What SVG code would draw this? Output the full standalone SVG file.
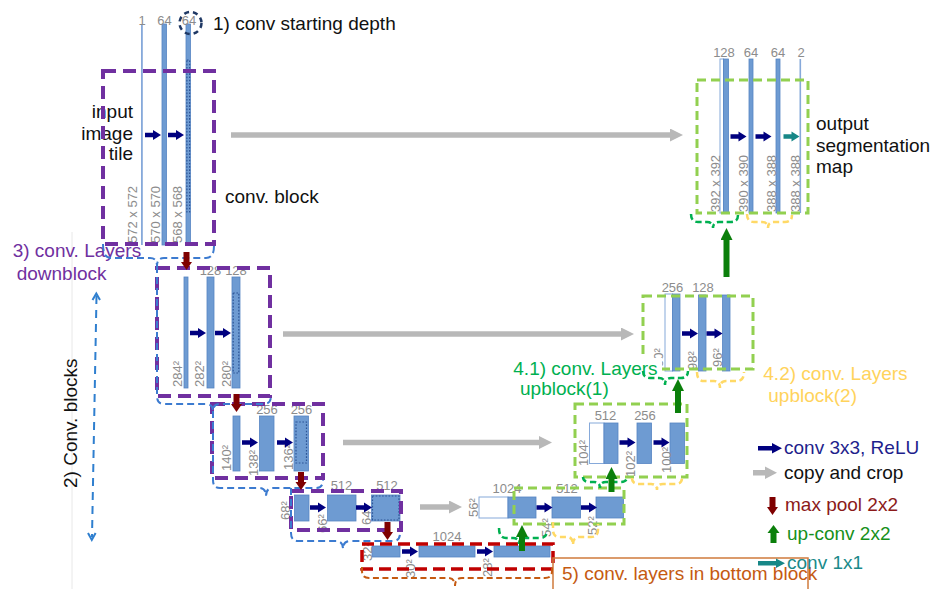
<svg xmlns="http://www.w3.org/2000/svg" width="934" height="589" viewBox="0 0 934 589">
<defs>
<style>
.bar{fill:#6E9BD2;stroke:#5584C2;stroke-width:0.8}
.thin{fill:#86A9DA;stroke:none}
.wbar{fill:#fff;stroke:#86A9DA;stroke-width:1}
.dots{fill:none;stroke:#2D5596;stroke-width:1.2;stroke-dasharray:1.6 1.6}
.num{font-family:"Liberation Sans",Arial,sans-serif;font-size:13px;fill:#8C8C8C}
.c{text-anchor:middle}
.lbl{font-family:"Liberation Sans",Arial,sans-serif;font-size:19px;fill:#111}
.pbox{fill:none;stroke:#7030A0;stroke-width:4;stroke-dasharray:13 7}
.gbox{fill:none;stroke:#92D050;stroke-width:3;stroke-dasharray:9 5}
.rbox{fill:none;stroke:#C00000;stroke-width:3.5;stroke-dasharray:12 6}
.bbr{fill:none;stroke:#3C7BD0;stroke-width:2;stroke-dasharray:7 4}
.gbr{fill:none;stroke:#00B050;stroke-width:2.5;stroke-dasharray:6 3.5}
.ybr{fill:none;stroke:#FFD966;stroke-width:2.5;stroke-dasharray:6 3.5}
.obr{fill:none;stroke:#C55A11;stroke-width:2;stroke-dasharray:6 3.5}
.copy{stroke:#B8B8B8;stroke-width:5.5;marker-end:url(#mGray)}
.up{stroke:#0B7F0B;stroke-width:6;marker-end:url(#mGreen)}
</style>
<marker id="mGray" markerUnits="userSpaceOnUse" viewBox="0 0 13 13" markerWidth="13" markerHeight="13" refX="0" refY="6.5" orient="auto"><path d="M0,0 L13,6.5 L0,13 Z" fill="#B8B8B8"/></marker>
<marker id="mGreen" markerUnits="userSpaceOnUse" viewBox="0 0 12 12" markerWidth="12" markerHeight="12" refX="0" refY="6" orient="auto"><path d="M0,0 L12,6 L0,12 Z" fill="#0B7F0B"/></marker>
<path id="aNavy" d="M0,-2.3 H8 V-5 L16,0 L8,5 V2.3 H0 Z" fill="#00007F"/>
<path id="aTeal" d="M0,-2.3 H8 V-5 L16,0 L8,5 V2.3 H0 Z" fill="#178787"/>
<path id="aRed" d="M-3,0 H3 V10 H5.5 L0,18 L-5.5,10 H-3 Z" fill="#7F0000"/>
</defs>
<rect width="934" height="589" fill="#fff"/>
<line x1="72" y1="232" x2="72" y2="589" stroke="#E8E8E8" stroke-width="1"/>

<!-- Level 1 down -->
<g id="down1">
<text class="lbl" text-anchor="end" x="133" y="118">input</text>
<text class="lbl" text-anchor="end" x="133" y="139.5">image</text>
<text class="lbl" text-anchor="end" x="133" y="160">tile</text>
<rect class="thin" x="141" y="24" width="1.8" height="221"/>
<rect class="bar" x="162" y="24" width="4.5" height="221"/>
<rect class="bar" x="186" y="24" width="4.5" height="221"/>
<rect class="dots" x="186.9" y="60" width="2.7" height="152"/>
<text class="num c" x="142" y="25">1</text>
<text class="num c" x="164.5" y="25">64</text>
<text class="num c" x="189" y="25">64</text>
<circle cx="190.5" cy="23" r="11" fill="none" stroke="#1F3864" stroke-width="2.5" stroke-dasharray="5 4"/>
<text class="num" transform="translate(137,243) rotate(-90)">572 x 572</text>
<text class="num" transform="translate(160,243) rotate(-90)">570 x 570</text>
<text class="num" transform="translate(181.5,243) rotate(-90)">568 x 568</text>
<rect class="pbox" x="103" y="71" width="111" height="173"/>
</g>

<!-- Level 2 down -->
<g id="down2">
<rect class="bar" x="184" y="277" width="4" height="111"/>
<rect class="bar" x="207" y="277" width="7" height="111"/>
<rect class="bar" x="232" y="277" width="8" height="111"/>
<rect class="dots" x="233.2" y="293" width="5.6" height="80"/>
<text class="num c" x="210.5" y="275">128</text>
<text class="num c" x="236" y="275">128</text>
<text class="num" transform="translate(181.5,387) rotate(-90)">284²</text>
<text class="num" transform="translate(204,387) rotate(-90)">282²</text>
<text class="num" transform="translate(231,387) rotate(-90)">280²</text>
<rect class="pbox" x="157" y="268" width="113" height="128"/>
</g>

<!-- Level 3 down -->
<g id="down3">
<rect class="bar" x="233" y="416" width="7" height="55"/>
<rect class="bar" x="259.5" y="416" width="14.5" height="55"/>
<rect class="bar" x="294" y="416" width="14.5" height="55"/>
<rect class="dots" x="296" y="422" width="10.5" height="41"/>
<text class="num c" x="267" y="414">256</text>
<text class="num c" x="301.5" y="414">256</text>
<text class="num" transform="translate(231,471) rotate(-90)">140²</text>
<text class="num" transform="translate(258,476) rotate(-90)">138²</text>
<text class="num" transform="translate(292.5,470) rotate(-90)">136²</text>
<rect class="pbox" x="212" y="404" width="111" height="74"/>
</g>

<!-- Level 4 down -->
<g id="down4">
<rect class="bar" x="294.5" y="495" width="14.5" height="26"/>
<rect class="bar" x="327.5" y="495" width="28.5" height="26"/>
<rect class="bar" x="371.5" y="495" width="28.5" height="26"/>
<rect class="dots" x="372.5" y="496" width="26.5" height="24"/>
<text class="num c" x="341.5" y="490">512</text>
<text class="num c" x="387" y="490">512</text>
<text class="num" transform="translate(290,520) rotate(-90)">68²</text>
<text class="num" transform="translate(327,533) rotate(-90)">66²</text>
<text class="num" transform="translate(371,525) rotate(-90)">64²</text>
<rect class="pbox" x="291" y="491" width="110" height="39"/>
</g>

<!-- Bottom -->
<g id="bottom">
<rect class="bar" x="372" y="546" width="28" height="11"/>
<rect class="bar" x="419" y="546" width="56" height="11"/>
<rect class="bar" x="494" y="546" width="56" height="11"/>
<text class="num c" x="447" y="540.5">1024</text>
<text class="num" transform="translate(372,561) rotate(-90)">32²</text>
<text class="num" transform="translate(415,578) rotate(-90)">30²</text>
<text class="num" transform="translate(492,577) rotate(-90)">28²</text>
<rect class="rbox" x="362" y="544" width="191" height="25"/>
</g>

<!-- Up level 4 -->
<g id="up4">
<rect class="wbar" x="479" y="497" width="29" height="21"/>
<rect class="bar" x="508" y="497" width="28" height="21"/>
<rect class="bar" x="552" y="497" width="28.5" height="21"/>
<rect class="bar" x="596" y="497" width="27.5" height="21"/>
<text class="num c" x="507" y="493">1024</text>
<text class="num c" x="567" y="493">512</text>
<text class="num" transform="translate(478,517) rotate(-90)">56²</text>
<text class="num" transform="translate(551,537) rotate(-90)">54²</text>
<text class="num" transform="translate(597,535) rotate(-90)">52²</text>
<rect class="gbox" x="514" y="488" width="110" height="36"/>
</g>

<!-- Up level 3 -->
<g id="up3">
<rect class="wbar" x="589.5" y="423" width="14.5" height="40.5"/>
<rect class="bar" x="604" y="423" width="14" height="40.5"/>
<rect class="bar" x="637" y="423" width="14.5" height="40.5"/>
<rect class="bar" x="670" y="423" width="14.5" height="40.5"/>
<text class="num c" x="605.5" y="420">512</text>
<text class="num c" x="645" y="420">256</text>
<text class="num" transform="translate(588,466) rotate(-90)">104²</text>
<text class="num" transform="translate(635,477) rotate(-90)">102²</text>
<text class="num" transform="translate(670.5,473) rotate(-90)">100²</text>
<rect class="gbox" x="575" y="404" width="112" height="73"/>
</g>

<!-- Up level 2 -->
<g id="up2">
<rect class="wbar" x="665" y="294" width="7.5" height="77"/>
<rect class="bar" x="672.5" y="294" width="7.5" height="77"/>
<rect class="bar" x="698.5" y="295" width="7.5" height="76"/>
<rect class="bar" x="722.5" y="295" width="7.5" height="76"/>
<text class="num c" x="672.5" y="291.5">256</text>
<text class="num c" x="703" y="291.5">128</text>
<text class="num" transform="translate(663,367) rotate(-90)">00²</text>
<text class="num" transform="translate(697,370) rotate(-90)">98²</text>
<text class="num" transform="translate(722,367) rotate(-90)">96²</text>
<rect class="gbox" x="643" y="296" width="110" height="73"/>
</g>

<!-- Output -->
<g id="up1">
<rect class="wbar" x="720" y="59" width="3.5" height="154"/>
<rect class="bar" x="723.5" y="59" width="5" height="154"/>
<rect class="bar" x="749" y="59" width="4" height="154"/>
<rect class="bar" x="776" y="59" width="4" height="154"/>
<rect class="thin" x="799.5" y="59" width="1.6" height="154"/>
<text class="num c" x="724" y="57">128</text>
<text class="num c" x="751" y="57">64</text>
<text class="num c" x="778" y="57">64</text>
<text class="num c" x="801" y="57">2</text>
<text class="num" transform="translate(719.5,212) rotate(-90)">392 x 392</text>
<text class="num" transform="translate(748,212) rotate(-90)">390 x 390</text>
<text class="num" transform="translate(775.5,212) rotate(-90)">388 x 388</text>
<text class="num" transform="translate(799.5,212) rotate(-90)">388 x 388</text>
<rect class="gbox" x="697" y="80" width="111" height="133"/>
<text class="lbl" x="816" y="130">output</text>
<text class="lbl" x="816" y="151.5">segmentation</text>
<text class="lbl" x="816" y="173">map</text>
</g>

<!-- annotation labels -->
<g id="notes">
<text class="lbl" x="213" y="29.5">1) conv starting depth</text>
<text class="lbl" x="225" y="203">conv. block</text>
<text class="lbl" style="fill:#7030A0" x="12.7" y="257">3) conv. Layers</text>
<text class="lbl" style="fill:#7030A0" x="16.7" y="279.5">downblock</text>
<text class="lbl" transform="translate(77,488) rotate(-90)">2) Conv. blocks</text>
<rect x="511" y="358" width="151" height="19" fill="#fff"/>
<text class="lbl" style="fill:#00B050" x="513.3" y="375">4.1) conv. Layers</text>
<text class="lbl" style="fill:#00B050" x="520" y="395">upblock(1)</text>
<text class="lbl" style="fill:#FFD35C" x="763.3" y="380">4.2) conv. Layers</text>
<text class="lbl" style="fill:#FFD35C" x="768.3" y="401.5">upblock(2)</text>
<rect x="553" y="558" width="255" height="40" fill="none" stroke="#D07B3C" stroke-width="1.5"/>
<text class="lbl" style="fill:#C55A11" x="562" y="580">5) conv. layers in bottom block</text>
</g>

<!-- braces -->
<g id="braces">
<path class="bbr" d="M103,244 Q103,258 111,258 H150 Q157,258 157,266 Q157,258 164,258 H206 Q214,258 214,246"/>
<path class="bbr" d="M157,266 V396 Q157,404 164,404 H206 Q213,404 213,411 Q213,404 220,404 H264 Q271,404 271,396"/>
<path class="bbr" d="M213,411 V480 Q213,488 220,488 H259 Q266,488 266,496 Q266,488 273,488 H316 Q323,488 323,480"/>
<path class="bbr" d="M291,488 V533 Q291,541 298,541 H336 Q343,541 343,549 Q343,541 350,541 H393 Q400,541 400,533 V531"/>
<path class="obr" d="M362,567 V571 Q362,578 369,578 H448 Q455,578 455,586 Q455,578 462,578 H545 Q552,578 552,571 V567"/>
<path class="gbr" d="M691,214 Q691,222 698,222 H707 Q713,222 713,228 Q713,222 719,222 H731 Q738,222 738,215"/>
<path class="ybr" d="M747,214 Q747,222 754,222 H762 Q768,222 768,228 Q768,222 774,222 H785 Q792,222 792,215"/>
<path class="gbr" d="M643,371 Q643,378 650,378 H659 Q665,378 665,385 Q665,378 671,378 H681 Q688,378 688,371"/>
<path class="ybr" d="M697,372 Q697,381 704,381 H714 Q720,381 720,388 Q720,381 726,381 H737 Q744,381 744,372"/>
<path class="gbr" d="M583,477 Q583,482 590,482 H594 Q600,482 600,488 Q600,482 606,482 H620 Q627,482 627,477"/>
<path class="ybr" d="M632,478 Q632,484 639,484 H651 Q657,484 657,490 Q657,484 663,484 H675 Q682,484 682,478"/>
<path class="gbr" d="M499,528 Q499,538 506,538 H513 Q519,538 519,544 Q519,538 525,538 H540 Q547,538 547,530"/>
<path class="ybr" d="M553,522 V530 Q553,537 560,537 H567 Q573,537 573,545 Q573,537 579,537 H591 Q598,537 598,530 V524"/>
<line x1="96.5" y1="296" x2="92" y2="537" stroke="#2F7FCF" stroke-width="2" stroke-dasharray="8 6"/>
<polyline points="92.5,300 96.3,293.5 100,300" fill="none" stroke="#2F7FCF" stroke-width="2"/>
<polyline points="88,533 91.8,540 95.6,533" fill="none" stroke="#2F7FCF" stroke-width="2"/>
</g>

<!-- connectors -->
<g id="connectors">
<use href="#aNavy" x="145" y="135"/>
<use href="#aNavy" x="168" y="135"/>
<use href="#aNavy" x="190" y="333"/>
<use href="#aNavy" x="215" y="333"/>
<use href="#aNavy" x="242" y="442.5"/>
<use href="#aNavy" x="277" y="442.5"/>
<use href="#aNavy" x="310" y="507.5"/>
<use href="#aNavy" x="356" y="507.5"/>
<use href="#aNavy" x="402" y="551.5"/>
<use href="#aNavy" x="477" y="551.5"/>
<use href="#aNavy" x="536.5" y="507.5"/>
<use href="#aNavy" x="581" y="507.5"/>
<use href="#aNavy" x="619.5" y="442.5"/>
<use href="#aNavy" x="653.5" y="442.5"/>
<use href="#aNavy" x="682" y="333.5"/>
<use href="#aNavy" x="706.5" y="333.5"/>
<use href="#aNavy" x="730.5" y="136.5"/>
<use href="#aNavy" x="755.5" y="136.5"/>
<use href="#aTeal" x="783.5" y="136.5"/>
<line class="copy" x1="231" y1="135" x2="670" y2="135"/>
<line class="copy" x1="283" y1="334" x2="621" y2="334"/>
<line class="copy" x1="343" y1="442.5" x2="539" y2="442.5"/>
<line class="copy" x1="420" y1="507" x2="449" y2="507"/>
<use href="#aRed" x="186.5" y="252"/>
<use href="#aRed" x="236.5" y="394"/>
<use href="#aRed" x="301" y="472"/>
<use href="#aRed" x="387.5" y="522"/>
<line class="up" x1="522" y1="551" x2="522" y2="537"/>
<line class="up" x1="611.5" y1="492" x2="611.5" y2="479"/>
<line class="up" x1="678" y1="413" x2="678" y2="391"/>
<line class="up" x1="726.5" y1="277" x2="726.5" y2="240"/>
</g>

<!-- legend -->
<g id="legend">
<path d="M758,446 H772 V443 L782,448.3 L772,453.6 V450.6 H758 Z" fill="#00007F"/>
<text class="lbl" style="fill:#1E1E8C" x="784" y="454">conv 3x3, ReLU</text>
<path d="M753,470 H765 V466.5 L777,472.7 L765,479 V475.5 H753 Z" fill="#B8B8B8"/>
<text class="lbl" x="784" y="478.5">copy and crop</text>
<use href="#aRed" x="772.5" y="497"/>
<text class="lbl" style="fill:#8B1A1A" x="785" y="510.5">max pool 2x2</text>
<path d="M770.5,543 V533 H767.5 L773.5,525 L779.5,533 H776.5 V543 Z" fill="#0B7F0B"/>
<text class="lbl" style="fill:#17901A" x="787" y="539.5">up-conv 2x2</text>
<path d="M758,561 H776 V558.5 L785,563.3 L776,568 V565.6 H758 Z" fill="#178787"/>
<text class="lbl" style="fill:#1A8A8A" x="787" y="568.5">conv 1x1</text>
</g>
</svg>
